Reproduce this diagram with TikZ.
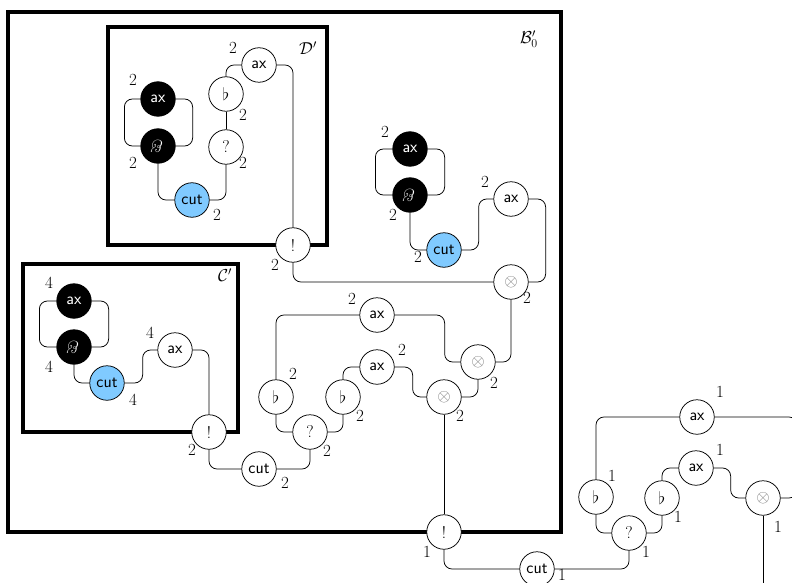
\documentclass[tikz,border=0pt]{standalone}
\usepackage{amssymb}
\usepackage{graphicx}
\usepackage{fontspec}
\usetikzlibrary{calc}
\definecolor{cutblue}{RGB}{128,202,255}
\newcommand{\myparr}{\rotatebox[origin=c]{180}{\rmfamily\itshape\&}}
\begin{document}
\begin{tikzpicture}[x=1pt,y=-1pt,
  net/.style={circle,draw,line width=0.75pt,fill=white,minimum size=34.5pt,inner sep=0pt,font=\fontsize{17}{20}\selectfont\sffamily},
  blk/.style={net,fill=black,text=white},
  cutn/.style={net,fill=cutblue},
  tens/.style={net,text=black!55},
  lab/.style={inner sep=0pt,font=\fontsize{17}{20}\selectfont},
  wire/.style={line width=0.75pt,rounded corners=8pt},
  boxe/.style={line width=3.5pt},
]
\useasboundingbox (0,0) rectangle (792,583);
\clip (0,0) rectangle (792,583);

% boxes
\draw[boxe] (8,12) rectangle (561,532);
\draw[boxe] (108,27) rectangle (327,245);
\draw[boxe] (23,264) rectangle (238,432);
\node[lab] (labB) at (529,39) {$\mathcal{B}'_0$};
\node[lab] (labD) at (308,48) {$\mathcal{D}'$};
\node[lab] (labC) at (225,275) {$\mathcal{C}'$};

% ---------- D' ----------
\node[blk] (dbax) at (158,99) {ax};
\node[blk] (dbpar) at (158,146) {\myparr};
\node[cutn] (dcut) at (192,200) {cut};
\node[net] (dq) at (226,147) {\rmfamily ?};
\node[net] (dflat) at (226,94) {$\flat$};
\node[net] (dax) at (259,65) {ax};
\node[net] (dbang) at (293,245) {\rmfamily !};
\node[lab] (l1) at (133,80) {2};
\node[lab] (l2) at (133,163) {2};
\node[lab] (l3) at (217,215) {2};
\node[lab] (l4) at (243,163) {2};
\node[lab] (l5) at (243,115) {2};
\node[lab] (l6) at (233,48) {2};
\node[lab] (l7) at (275,265) {2};

% ---------- right group in B ----------
\node[blk] (rbax) at (410,149) {ax};
\node[blk] (rbpar) at (410,195) {\myparr};
\node[cutn] (rcut) at (444,250) {cut};
\node[net] (rax) at (511,199) {ax};
\node[tens] (rt1) at (511,282) {$\otimes$};
\node[lab] (l8) at (385,132) {2};
\node[lab] (l9) at (393,215) {2};
\node[lab] (l10) at (418,257) {2};
\node[lab] (l11) at (485,182) {2};
\node[lab] (l12) at (527,298) {2};

% ---------- middle ----------
\node[tens] (mt2) at (478,362) {$\otimes$};
\node[net] (max) at (377,315) {ax};
\node[net] (mf1) at (276,397) {$\flat$};
\node[net] (mq) at (310,432) {\rmfamily ?};
\node[net] (mf2) at (343,397) {$\flat$};
\node[net] (max2) at (377,367) {ax};
\node[tens] (mt3) at (444,397) {$\otimes$};
\node[net] (mcut) at (259,469) {cut};
\node[net] (cbang) at (209,432) {\rmfamily !};
\node[net] (bbang) at (444,532) {\rmfamily !};
\node[lab] (l13) at (494,383) {2};
\node[lab] (l14) at (352,299) {2};
\node[lab] (l15) at (293,374) {2};
\node[lab] (l16) at (327,451) {2};
\node[lab] (l17) at (360,416) {2};
\node[lab] (l18) at (402,350) {2};
\node[lab] (l19) at (460,416) {2};
\node[lab] (l20) at (285,483) {2};
\node[lab] (l21) at (192,450) {2};
\node[lab] (l22) at (427,552) {1};

% ---------- C' ----------
\node[blk] (cbax) at (74,301) {ax};
\node[blk] (cbpar) at (74,347) {\myparr};
\node[cutn] (ccut) at (107,383) {cut};
\node[net] (cax) at (175,350) {ax};
\node[lab] (l23) at (49,283) {4};
\node[lab] (l24) at (49,367) {4};
\node[lab] (l25) at (133,400) {4};
\node[lab] (l26) at (150,333) {4};

% ---------- outside right ----------
\node[net] (ocut) at (537,569) {cut};
\node[net] (oq) at (629,533) {\rmfamily ?};
\node[net] (of1) at (596,497) {$\flat$};
\node[net] (oax) at (697,417) {ax};
\node[net] (of2) at (662,498) {$\flat$};
\node[net] (oax2) at (696,468) {ax};
\node[tens] (ot) at (763,498) {$\otimes$};
\coordinate (rr) at (797,460);
\coordinate (bend) at (763,600);
\node[lab] (l27) at (562,575) {1};
\node[lab] (l28) at (646,552) {1};
\node[lab] (l29) at (612,476) {1};
\node[lab] (l30) at (720,392) {1};
\node[lab] (l31) at (678,517) {1};
\node[lab] (l32) at (720,450) {1};
\node[lab] (l33) at (778,527) {1};

% ---------- wires ----------
% D'
\draw[wire] (dbax.west) -- ++(-16,0) |- (dbpar.west);
\draw[wire] (dbax.east) -- ++(17,0) |- (dbpar.east);
\draw[wire] (dbpar.south) |- (dcut.west);
\draw[wire] (dcut.east) -| (dq.south);
\draw[wire] (dq.north) -- (dflat.south);
\draw[wire] (dflat.north) |- (dax.west);
\draw[wire] (dax.east) -| (dbang.north);
\draw[wire] (dbang.south) |- (rt1.west);
% right group
\draw[wire] (rbax.west) -- ++(-17,0) |- (rbpar.west);
\draw[wire] (rbax.east) -- ++(17,0) |- (rbpar.east);
\draw[wire] (rbpar.south) |- (rcut.west);
\draw[wire] (rcut.east) -- ++(17,0) |- (rax.west);
\draw[wire] (rax.east) -- ++(17,0) |- (rt1.east);
\draw[wire] (rt1.south) |- (mt2.east);
% middle
\draw[wire] (max.east) -- ++(50,0) |- (mt2.west);
\draw[wire] (max.west) -| (mf1.north);
\draw[wire] (mf1.south) |- (mq.west);
\draw[wire] (mq.east) -| (mf2.south);
\draw[wire] (mf2.north) |- (max2.west);
\draw[wire] (max2.east) -- ++(18,0) |- (mt3.west);
\draw[wire] (mt3.east) -| (mt2.south);
\draw[wire] (mt3.south) -- (bbang.north);
\draw[wire] (mq.south) |- (mcut.east);
\draw[wire] (mcut.west) -| (cbang.south);
% C'
\draw[wire] (cbax.west) -- ++(-17,0) |- (cbpar.west);
\draw[wire] (cbax.east) -- ++(17,0) |- (cbpar.east);
\draw[wire] (cbpar.south) |- (ccut.west);
\draw[wire] (ccut.east) -- ++(18,0) |- (cax.west);
\draw[wire] (cax.east) -| (cbang.north);
% outside
\draw[wire] (bbang.south) |- (ocut.west);
\draw[wire] (ocut.east) -| (oq.south);
\draw[wire] (oq.west) -| (of1.south);
\draw[wire] (of1.north) |- (oax.west);
\draw[wire] (oax.east) -| (rr) |- (ot.east);
\draw[wire] (oq.east) -| (of2.south);
\draw[wire] (of2.north) |- (oax2.west);
\draw[wire] (oax2.east) -- ++(17,0) |- (ot.west);
\draw[wire] (ot.south) -- (bend);
\end{tikzpicture}
\end{document}
